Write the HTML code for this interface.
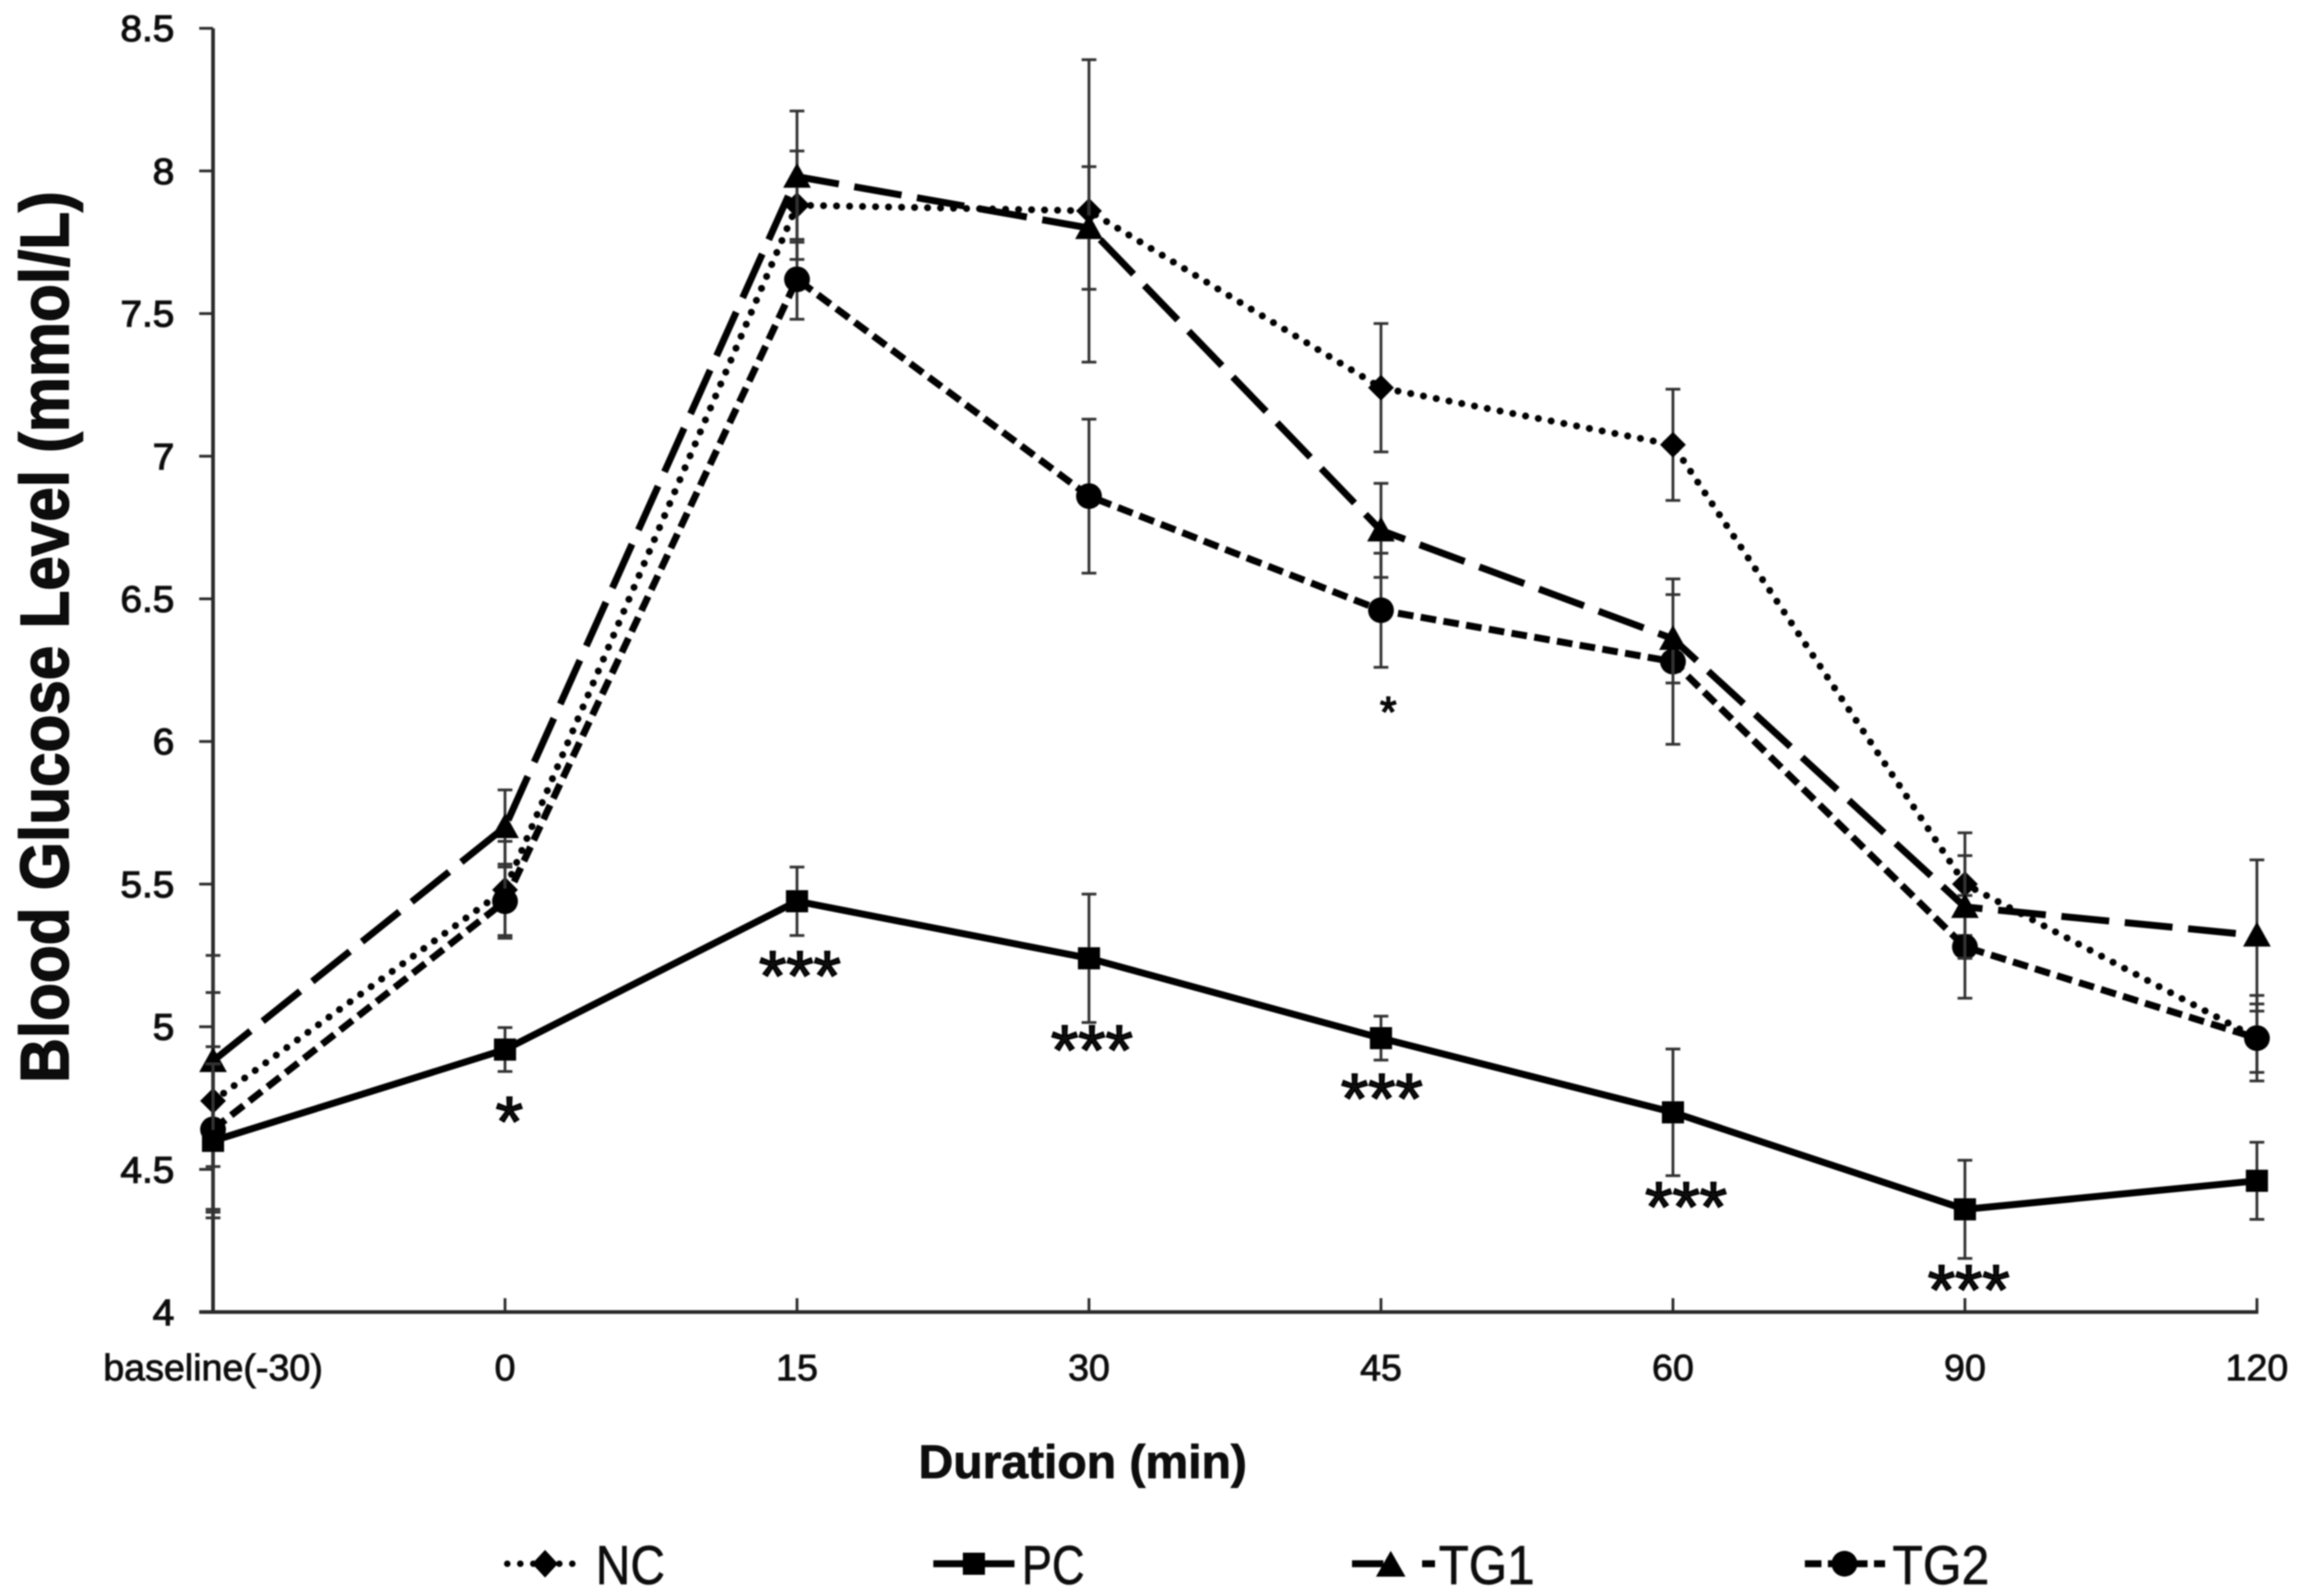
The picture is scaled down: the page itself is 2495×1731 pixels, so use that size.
<!DOCTYPE html>
<html lang="en">
<head>
<meta charset="utf-8">
<title>Blood Glucose Level</title>
<style>
html,body{margin:0;padding:0;background:#fff;}
svg{display:block;}
text{font-family:"Liberation Sans",sans-serif;fill:#111;}
</style>
</head>
<body>
<svg id="chart" xmlns="http://www.w3.org/2000/svg" width="2495" height="1731" viewBox="0 0 2495 1731">
  <defs>
    <filter id="soft" x="-5%" y="-5%" width="110%" height="110%"><feGaussianBlur stdDeviation="0.8"/></filter>
  </defs>
  <rect width="2495" height="1731" fill="#fff"/>
  <g id="root" filter="url(#soft)">
    <g id="axes"></g>
    <g id="series"></g>
    <g id="stars"></g>

    <text transform="translate(74,691) rotate(-90)" text-anchor="middle" font-size="74" font-weight="700" stroke="#000" stroke-width="1.5" textLength="967" lengthAdjust="spacingAndGlyphs">Blood Glucose Level (mmol/L)</text>
    <text x="996" y="1603" font-size="51" font-weight="700" stroke="#000" stroke-width="0.8" textLength="356" lengthAdjust="spacingAndGlyphs">Duration (min)</text>

    <g>
      <g>
        <line x1="550" x2="634" y1="1696" y2="1696" stroke="#000" stroke-width="7" stroke-linecap="round" stroke-dasharray="0.1 14"/>
        <polygon points="591,1681 605,1696 591,1711 577,1696" fill="#000"/>
        <text x="646" y="1718" font-size="59" stroke="#111" stroke-width="0.7" textLength="75" lengthAdjust="spacingAndGlyphs">NC</text>
      </g>
      <g>
        <line x1="1012" x2="1100" y1="1696" y2="1696" stroke="#000" stroke-width="7.5"/>
        <rect x="1044" y="1684" width="24" height="24" fill="#000"/>
        <text x="1108" y="1718" font-size="59" stroke="#111" stroke-width="0.7" textLength="68" lengthAdjust="spacingAndGlyphs">PC</text>
      </g>
      <g>
        <line x1="1466" x2="1500" y1="1696" y2="1696" stroke="#000" stroke-width="7.5"/>
        <polygon points="1508,1682 1524,1710 1492,1710" fill="#000"/>
        <line x1="1542" x2="1556" y1="1696" y2="1696" stroke="#000" stroke-width="7.5"/>
        <text x="1560" y="1718" font-size="59" stroke="#111" stroke-width="0.7" textLength="104" lengthAdjust="spacingAndGlyphs">TG1</text>
      </g>
      <g>
        <line x1="1957" x2="2044" y1="1696" y2="1696" stroke="#000" stroke-width="7.5" stroke-dasharray="18 7"/>
        <circle cx="2000" cy="1696" r="14" fill="#000"/>
        <text x="2052" y="1718" font-size="59" stroke="#111" stroke-width="0.7" textLength="105" lengthAdjust="spacingAndGlyphs">TG2</text>
      </g>
    </g>
  </g>
</svg>
<script>
const categories = ["baseline(-30)", "0", "15", "30", "45", "60", "90", "120"];
const yTickValues = [4, 4.5, 5, 5.5, 6, 6.5, 7, 7.5, 8, 8.5];
const yTickLabels = ["4", "4.5", "5", "5.5", "6", "6.5", "7", "7.5", "8", "8.5"];

const ncValues  = [4.74, 5.48, 7.88, 7.86, 7.24, 7.04, 5.50, 4.96];
const ncErrors  = [0.38, 0.17, 0.19, 0.53, 0.225, 0.195, 0.18, 0.15];
const pcValues  = [4.60, 4.92, 5.44, 5.24, 4.96, 4.70, 4.36, 4.46];
const pcErrors  = [0.27, 0.077, 0.12, 0.225, 0.077, 0.222, 0.172, 0.135];
const tg1Values = [4.88, 5.70, 7.98, 7.80, 6.74, 6.36, 5.42, 5.32];
const tg1Errors = [0.37, 0.13, 0.23, 0.215, 0.165, 0.155, 0.18, 0.265];
const tg2Values = [4.64, 5.44, 7.62, 6.86, 6.46, 6.28, 5.28, 4.96];
const tg2Errors = [0.29, 0.12, 0.14, 0.27, 0.20, 0.29, 0.18, 0.12];

const starCategories = [1.015, 2.01, 3.01, 4.003, 5.045, 6.013];
const starLevels = [4.71, 5.22, 4.96, 4.79, 4.41, 4.12];
const starLabels = ["*", "***", "***", "***", "***", "***"];
const smallStarCategory = 4.025;
const smallStarLevel = 6.13;
const smallStarLabel = "*";

const NS = "http://www.w3.org/2000/svg";
const plot = { x0: 231, step: 316.6, yBase: 1423, yScale: 309.4, yMin: 4 };
function xAt(i) { return plot.x0 + i * plot.step; }
function yAt(v) { return plot.yBase - (v - plot.yMin) * plot.yScale; }
function make(tag, attrs, parent) {
  const el = document.createElementNS(NS, tag);
  for (const k in attrs) el.setAttribute(k, attrs[k]);
  parent.appendChild(el);
  return el;
}
const axes = document.getElementById("axes");
const seriesRoot = document.getElementById("series");
const starsRoot = document.getElementById("stars");
const axisColor = "#2a2a2a";

const yAxisLine = make("line", { x1: xAt(0), x2: xAt(0), y1: yAt(8.5), y2: yAt(4) + 2, stroke: axisColor, "stroke-width": 4 }, axes);


const xAxisLine = make("line", { x1: xAt(0) - 15, x2: xAt(7) + 1.5, y1: yAt(4), y2: yAt(4), stroke: axisColor, "stroke-width": 4 }, axes);



yTickValues.forEach(function (v, i) {
  const tick = make("line", { x1: xAt(0) - 15, x2: xAt(0), y1: yAt(v), y2: yAt(v), stroke: axisColor, "stroke-width": 3 }, axes);
  
  
  const label = make("text", { transform: "translate(189," + (yAt(v) + 14) + ") scale(1.05,1)", "text-anchor": "end", "font-size": 40, stroke: "#111", "stroke-width": 1.2 }, axes);
  label.textContent = yTickLabels[i];
  
  
});

categories.forEach(function (c, i) {
  if (i > 0) {
    const tick = make("line", { x1: xAt(i), x2: xAt(i), y1: yAt(4) - 15, y2: yAt(4), stroke: axisColor, "stroke-width": 3 }, axes);
    
    
  }
  const label = make("text", { transform: "translate(" + xAt(i) + ",1497) scale(1.02,1)", "text-anchor": "middle", "font-size": 40, stroke: "#111", "stroke-width": 0.9 }, axes);
  label.textContent = c;
  
  
});

function drawMarker(kind, x, y, g) {
  if (kind === "diamond") return make("polygon", { points: [x, y - 14, x + 14, y, x, y + 14, x - 14, y].join(","), fill: "#000" }, g);
  if (kind === "square") return make("rect", { x: x - 12, y: y - 12, width: 24, height: 24, fill: "#000" }, g);
  if (kind === "triangle") return make("polygon", { points: [x, y - 15, x + 15, y + 12, x - 15, y + 12].join(","), fill: "#000" }, g);
  return make("circle", { cx: x, cy: y, r: 14, fill: "#000" }, g);
}

function drawSeries(key, values, errors, kind, width, dash, cap) {
  const g = make("g", {}, seriesRoot);
  
  
  values.forEach(function (v, i) {
    const e = errors[i];
    const bar = make("path", {
      d: "M" + xAt(i) + " " + yAt(v + e) + "V" + yAt(v - e) +
         "M" + (xAt(i) - 8) + " " + yAt(v + e) + "H" + (xAt(i) + 8) +
         "M" + (xAt(i) - 8) + " " + yAt(v - e) + "H" + (xAt(i) + 8),
      fill: "none", stroke: "#333", "stroke-width": 3
    }, g);
    
    
  });
  const pts = values.map(function (v, i) { return xAt(i) + "," + yAt(v); }).join(" ");
  const line = make("polyline", { points: pts, fill: "none", stroke: "#000", "stroke-width": width, "stroke-linejoin": "round" }, g);
  if (dash) line.setAttribute("stroke-dasharray", dash);
  if (cap) line.setAttribute("stroke-linecap", cap);
  
  
  values.forEach(function (v, i) {
    const m = drawMarker(kind, xAt(i), yAt(v), g);
    
    
  });
}

drawSeries("nc", ncValues, ncErrors, "diamond", 7.5, "0.1 14", "round");
drawSeries("tg2", tg2Values, tg2Errors, "circle", 7.5, "17 8", "butt");
drawSeries("tg1", tg1Values, tg1Errors, "triangle", 7.5, "52 17", "butt");
drawSeries("pc", pcValues, pcErrors, "square", 7.5, null, null);

starLabels.forEach(function (s, i) {
  const t = make("text", { "text-anchor": "middle", "font-size": 76, stroke: "#000", "stroke-width": 1.8, x: xAt(starCategories[i]), y: yAt(starLevels[i]) + 39 }, starsRoot);
  t.textContent = s;
  
  
});
const smallStar = make("text", { "text-anchor": "middle", "font-size": 46, stroke: "#000", "stroke-width": 1.5, x: xAt(smallStarCategory), y: yAt(smallStarLevel) + 24 }, starsRoot);
smallStar.textContent = smallStarLabel;


</script>
</body>
</html>
